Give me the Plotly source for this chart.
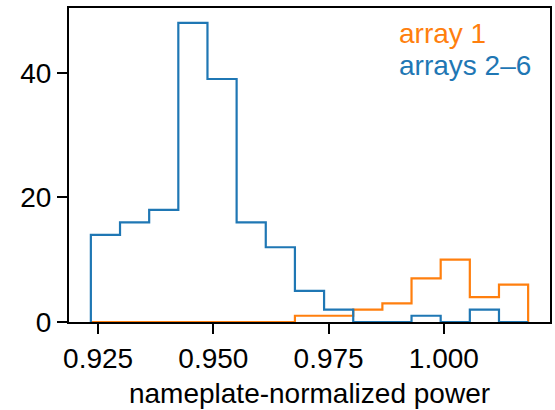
import plotly.graph_objects as go

# histogram bins (shared by both series)
bin_start = 0.92342
bin_width = 0.006324
n_bins = 15

series_names = ["array 1", "arrays 2\u20136"]
counts_array1 = [0, 0, 0, 0, 0, 0, 0, 1, 1, 2, 3, 7, 10, 4, 6]
counts_arrays2_6 = [14, 16, 18, 48, 39, 16, 12, 5, 2, 0, 0, 1, 0, 2, 0]
colors = ["#ff7f0e", "#1f77b4"]

x_ticks = [0.925, 0.950, 0.975, 1.000]
x_tick_labels = ["0.925", "0.950", "0.975", "1.000"]
y_ticks = [0, 20, 40]

edges = [bin_start + i * bin_width for i in range(n_bins + 1)]


def step_path(counts):
    xs, ys = [edges[0]], [0]
    for i, c in enumerate(counts):
        xs += [edges[i], edges[i + 1]]
        ys += [c, c]
    xs.append(edges[-1])
    ys.append(0)
    return xs, ys


FONT = "Liberation Sans, Arial, Helvetica, sans-serif"
FS = 28

fig = go.Figure()
for name, counts, col in zip(series_names, [counts_array1, counts_arrays2_6], colors):
    xs, ys = step_path(counts)
    fig.add_trace(go.Scatter(x=xs, y=ys, mode="lines", name=name,
                             line=dict(color=col, width=2.2), showlegend=False))

span = edges[-1] - edges[0]
xr = [edges[0] - 0.05 * span, edges[-1] + 0.05 * span]
ymax = max(max(counts_array1), max(counts_arrays2_6)) * 1.05

fig.update_layout(
    width=555, height=410,
    margin=dict(l=69, r=3, t=8, b=88),
    paper_bgcolor="white", plot_bgcolor="white",
    font=dict(family=FONT, size=FS, color="black"),
    xaxis=dict(range=xr, tickvals=x_ticks, ticktext=x_tick_labels,
               showgrid=False, zeroline=False, showline=True, mirror=True,
               linecolor="black", linewidth=2, ticks="outside", ticklen=10,
               tickwidth=2, tickcolor="black",
               title=dict(text="nameplate-normalized power", standoff=11,
                          font=dict(size=FS))),
    yaxis=dict(range=[0, ymax], tickvals=y_ticks,
               showgrid=False, zeroline=False, showline=True, mirror=True,
               linecolor="black", linewidth=2, ticks="outside", ticklen=10,
               tickwidth=2, tickcolor="black"),
)

legend_y = [0.919, 0.817]
for name, col, yy in zip(series_names, colors, legend_y):
    fig.add_annotation(text=name, xref="paper", yref="paper", x=0.682, y=yy,
                       xanchor="left", yanchor="middle", showarrow=False,
                       font=dict(color=col, size=FS, family=FONT))

fig.write_html("out.html")
